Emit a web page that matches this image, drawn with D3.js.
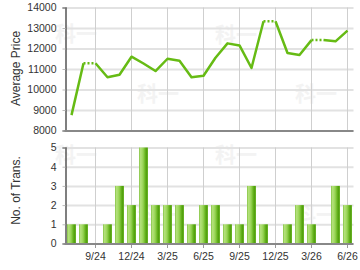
<!DOCTYPE html>
<html>
<head>
<meta charset="utf-8">
<script src="https://cdn.jsdelivr.net/npm/d3@7"></script>
<style>
  body { margin: 0; background: #fff; }
  svg { display: block; font-family: "Liberation Sans", Arial, sans-serif; }
  .tick text { fill: #333; font-size: 10.5px; }
  .grid line { stroke: #e2e2e2; stroke-width: 2; }
  .vgrid line { stroke: #cfcfcf; stroke-width: 1; }
  .grid path, .vgrid path { display: none; }
  .title { font-size: 12px; fill: #333; }
  .wm { font-family: "Noto Sans CJK SC", sans-serif; font-weight: bold; font-size: 21px; fill: #f3f3f3; }
</style>
</head>
<body>
<svg width="360" height="270"></svg>
<script>
const months = ['2024-07','2024-08','2024-09','2024-10','2024-11','2024-12',
  '2025-01','2025-02','2025-03','2025-04','2025-05','2025-06',
  '2025-07','2025-08','2025-09','2025-10','2025-11','2025-12',
  '2026-01','2026-02','2026-03','2026-04','2026-05','2026-06'];

// null = no transaction that month (line is carried on dotted)
const avgPrice = [8750, 11280, null, 10600, 10720, 11600,
  11270, 10900, 11500, 11400, 10600, 10670,
  11550, 12250, 12150, 11050, 13330, null,
  11780, 11680, 12410, null, 12350, 12870];

const transCount = [1, 1, 0, 1, 3, 2,
  5, 2, 2, 2, 1, 2,
  2, 1, 1, 3, 1, 0,
  1, 2, 1, 0, 3, 2];

const tickMonths = ['2024-09','2024-12','2025-03','2025-06','2025-09','2025-12','2026-03','2026-06'];
const tickLabels = ['9/24','12/24','3/25','6/25','9/25','12/25','3/26','6/26'];

const priceTicks = [8000, 9000, 10000, 11000, 12000, 13000, 14000];
const countTicks = [0, 1, 2, 3, 4, 5];

const svg = d3.select('svg');
const left = 65.5, right = 353.5;

const x = d3.scaleBand()
  .domain(months)
  .range([left, right])
  .paddingInner(0.25)
  .paddingOuter(0.125);
const cx = (m) => x(m) + x.bandwidth() / 2;

const yPrice = d3.scaleLinear().domain([8000, 14000]).range([130.5, 7.5]);
const yCount = d3.scaleLinear().domain([0, 5]).range([243.5, 147.5]);

const defs = svg.append('defs');
const grad = defs.append('linearGradient').attr('id', 'barGrad')
  .attr('x1', '0%').attr('x2', '100%').attr('y1', '0%').attr('y2', '0%');
[['0%', '#86c446'], ['18%', '#b5e27c'], ['45%', '#98d455'], ['72%', '#62b01a'], ['88%', '#4e9c0c'], ['100%', '#78bf34']]
  .forEach(([o, c]) => grad.append('stop').attr('offset', o).attr('stop-color', c));

// watermarks
const wm = [[55, 41], [137, 101], [215, 42], [295, 101], [55, 162], [137, 222], [215, 162], [295, 222]];
svg.append('g').selectAll('text').data(wm).enter().append('text')
  .attr('class', 'wm').attr('x', d => d[0]).attr('y', d => d[1]).text('科一');

function panel(y, ticks, bottom, top) {
  svg.append('g')
    .attr('class', 'grid')
    .attr('transform', `translate(${left},0)`)
    .call(d3.axisLeft(y).tickValues(ticks).tickSize(-(right - left)).tickFormat(''));
  svg.append('g')
    .attr('class', 'vgrid')
    .attr('transform', `translate(0,${top})`)
    .call(d3.axisBottom(x).tickValues(tickMonths).tickSize(bottom - top).tickFormat(''));
}

// ---- top: average price ----
panel(yPrice, priceTicks, 130.5, 7.5);

const filled = [];
avgPrice.forEach((v, i) => filled.push(v == null ? filled[i - 1] : v));
const pts = months.map((m, i) => [cx(m), yPrice(filled[i])]);

const solid = [];
pts.forEach((p, i) => {
  if (avgPrice[i] == null) solid.push(null);
  solid.push(p);
});
svg.append('path')
  .attr('d', d3.line().defined(d => d != null)(solid))
  .attr('fill', 'none')
  .attr('stroke', '#66bb14')
  .attr('stroke-width', 2.5)
  .attr('stroke-linejoin', 'round');

avgPrice.forEach((v, i) => {
  if (v == null) {
    svg.append('path')
      .attr('d', d3.line()([pts[i - 1], pts[i]]))
      .attr('stroke', '#66bb14')
      .attr('stroke-width', 2.5)
      .attr('stroke-dasharray', '2,2');
  }
});

svg.append('g')
  .attr('transform', `translate(${left},0)`)
  .call(d3.axisLeft(yPrice).tickValues(priceTicks).tickSize(3).tickPadding(6).tickFormat(d3.format('d')))
  .call(g => g.select('.domain').attr('stroke', '#555').attr('stroke-width', 1.5))
  .call(g => g.selectAll('.tick line').attr('stroke', '#bbb'));
svg.append('line')
  .attr('x1', left - 1).attr('x2', right).attr('y1', 131).attr('y2', 131)
  .attr('stroke', '#888').attr('stroke-width', 2);

svg.append('text').attr('class', 'title')
  .attr('transform', 'translate(20,68.5) rotate(-90)')
  .attr('text-anchor', 'middle')
  .text('Average Price');

// ---- bottom: number of transactions ----
panel(yCount, countTicks, 247.5, 147.5);

svg.append('g').selectAll('rect')
  .data(transCount.map((c, i) => ({ m: months[i], c })))
  .enter().append('rect')
  .attr('x', d => x(d.m))
  .attr('y', d => yCount(d.c))
  .attr('width', x.bandwidth())
  .attr('height', d => yCount(0) - yCount(d.c))
  .attr('fill', 'url(#barGrad)');

svg.append('g')
  .attr('transform', `translate(${left},0)`)
  .call(d3.axisLeft(yCount).tickValues(countTicks).tickSize(3).tickPadding(6).tickFormat(d3.format('d')))
  .call(g => g.select('.domain').attr('stroke', '#555').attr('stroke-width', 1.5))
  .call(g => g.selectAll('.tick line').attr('stroke', '#bbb'));

svg.append('g')
  .attr('transform', `translate(0,244)`)
  .call(d3.axisBottom(x).tickValues(tickMonths).tickSize(4).tickPadding(4.5)
    .tickFormat(m => tickLabels[tickMonths.indexOf(m)]))
  .call(g => g.select('.domain').remove())
  .call(g => g.selectAll('.tick line').attr('stroke', '#999'));
svg.append('line')
  .attr('x1', left - 1).attr('x2', right).attr('y1', 244).attr('y2', 244)
  .attr('stroke', '#888').attr('stroke-width', 2);

svg.append('text').attr('class', 'title')
  .attr('transform', 'translate(20,190.5) rotate(-90)')
  .attr('text-anchor', 'middle')
  .text('No. of Trans.');
</script>
</body>
</html>
